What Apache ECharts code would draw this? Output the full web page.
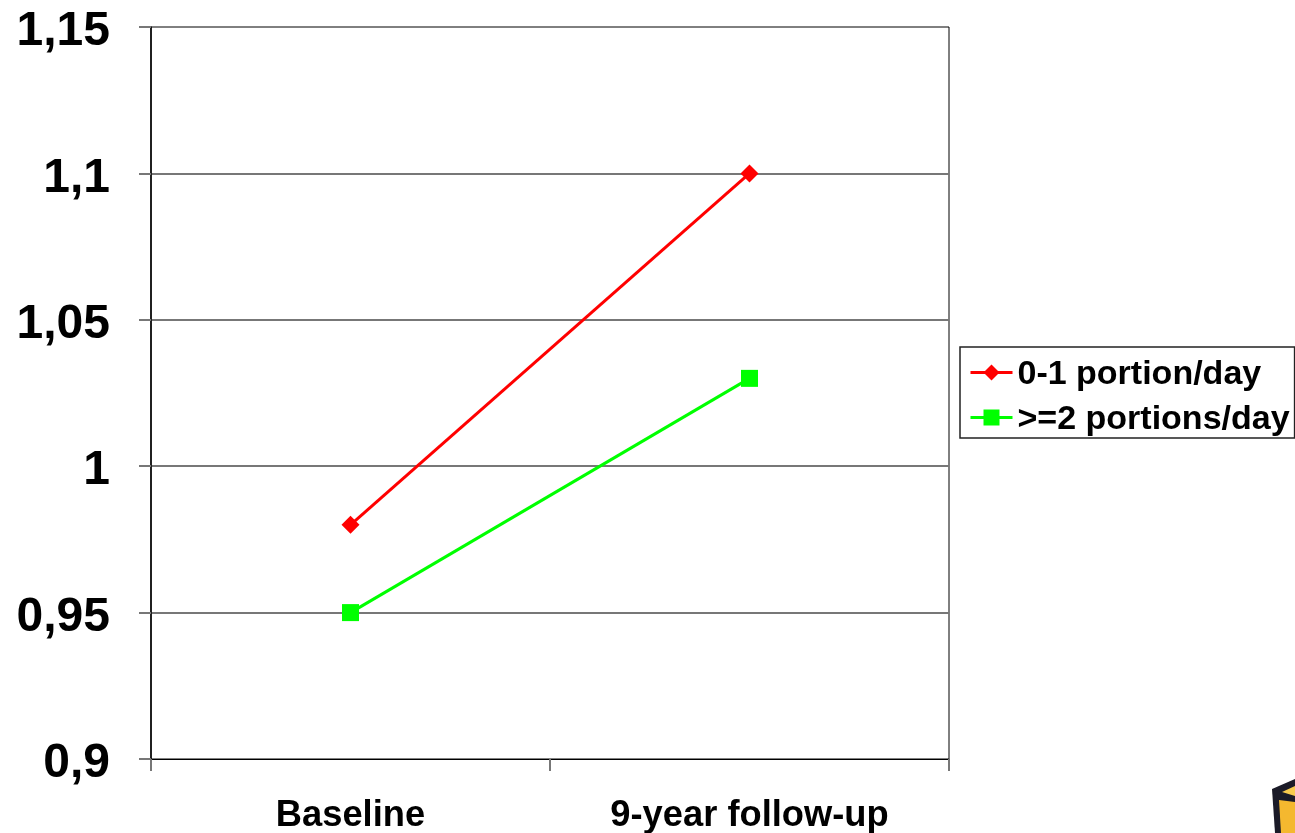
<!DOCTYPE html>
<html>
<head>
<meta charset="utf-8">
<style>html,body{margin:0;padding:0;background:#fff}#chart{width:1295px;height:833px}</style>
<script src="https://cdn.jsdelivr.net/npm/echarts@6/dist/echarts.min.js"></script>
</head>
<body>
<div id="chart"></div>
<script>
const categories = ['Baseline', '9-year follow-up'];
const lowIntake = [0.98, 1.1];
const highIntake = [0.95, 1.03];
const lowName = '0-1 portion/day';
const highName = '>=2 portions/day';

const FONT = '"Liberation Sans", Arial, sans-serif';
const TICK_GREY = '#777';
const chart = echarts.init(document.getElementById('chart'));

chart.setOption({
  animation: false,
  backgroundColor: '#fff',
  grid: {
    left: 151, right: 346, top: 27, bottom: 74, outerBoundsMode: 'none',
    show: true, borderColor: '#000', borderWidth: 1, backgroundColor: 'transparent'
  },
  legend: {
    left: 960, top: 347, orient: 'vertical', padding: [6, 5, 1, 9],
    itemWidth: 42, itemHeight: 20, itemGap: 6, symbolKeepAspect: true,
    backgroundColor: '#fff', borderColor: '#222', borderWidth: 1.5, borderRadius: 0,
    lineStyle: { width: 3 },
    formatter: name => '{t|' + name + '}',
    textStyle: {
      fontFamily: FONT, fontWeight: 'bold', fontSize: 34, color: '#000',
      rich: { t: { fontFamily: FONT, fontWeight: 'bold', fontSize: 34, lineHeight: 34, padding: [5, 0, 0, 0] } }
    },
    data: [lowName, highName]
  },
  xAxis: {
    type: 'category', data: categories, boundaryGap: true,
    splitLine: { show: false },
    axisLine: { onZero: false, lineStyle: { color: '#000', width: 1 } },
    axisTick: { show: true, alignWithLabel: false, length: 12, lineStyle: { color: TICK_GREY, width: 2 } },
    axisLabel: { fontFamily: FONT, fontWeight: 'bold', fontSize: 36.3, color: '#000', margin: 39 }
  },
  yAxis: {
    type: 'value', min: 0.9, max: 1.15, interval: 0.05,
    axisLine: { show: true, lineStyle: { color: '#000', width: 1.5 } },
    axisTick: { show: true, length: 12, lineStyle: { color: TICK_GREY, width: 2 } },
    splitLine: { show: true, showMinLine: false, showMaxLine: false, lineStyle: { color: TICK_GREY, width: 2 } },
    axisLabel: {
      fontFamily: FONT, fontWeight: 'bold', fontSize: 48, color: '#000', margin: 41,
      verticalAlign: 'top', lineHeight: 10,
      showMinLabel: true, showMaxLabel: true,
      formatter: v => String(v).replace('.', ',')
    }
  },
  series: [
    {
      name: lowName, type: 'line', data: lowIntake,
      symbol: 'diamond', symbolSize: 18,
      lineStyle: { color: '#ff0000', width: 3 },
      itemStyle: { color: '#ff0000' }
    },
    {
      name: highName, type: 'line', data: highIntake,
      symbol: 'rect', symbolSize: 17,
      lineStyle: { color: '#00ff00', width: 3 },
      itemStyle: { color: '#00ff00' }
    }
  ],
  graphic: [
    // corner of the mug clip art
    { type: 'polygon', z: 10, shape: { points: [[1272,789],[1295,779],[1295,833],[1275,833]] },
      style: { fill: '#1b1b28' } },
    { type: 'polygon', z: 11, shape: { points: [[1282,792],[1295,786],[1295,796]] },
      style: { fill: '#f8cb4e' } },
    { type: 'polygon', z: 11, shape: { points: [[1279,800],[1295,802],[1295,833],[1281,833]] },
      style: { fill: '#f4b82f' } }
  ]
});
</script>
</body>
</html>
